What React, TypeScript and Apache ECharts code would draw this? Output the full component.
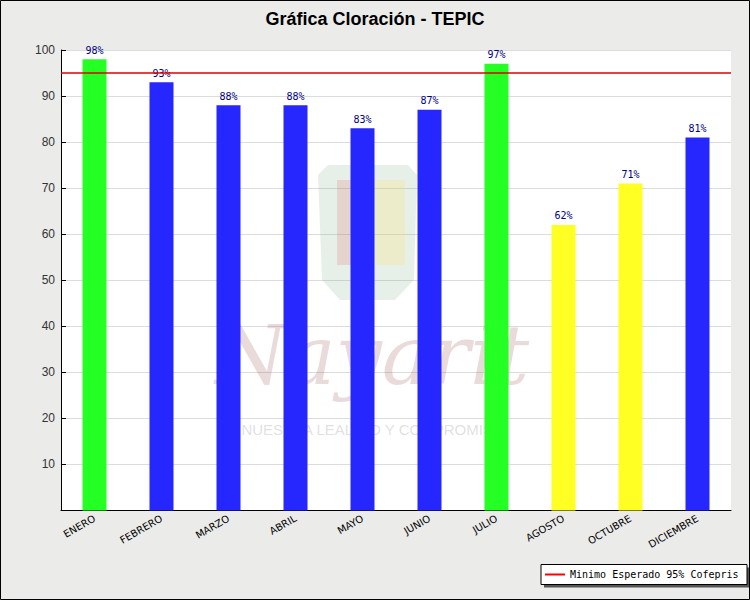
import React, { useEffect, useRef } from "react";
import * as echarts from "echarts";

const categories = ["ENERO", "FEBRERO", "MARZO", "ABRIL", "MAYO", "JUNIO", "JULIO", "AGOSTO", "OCTUBRE", "DICIEMBRE"];
const values = [98, 93, 88, 88, 83, 87, 97, 62, 71, 81];
const threshold = 95;
const yTicks = [0, 10, 20, 30, 40, 50, 60, 70, 80, 90, 100];
const titleText = "Gráfica Cloración - TEPIC";
const legendName = "Minimo Esperado 95% Cofepris";

const GREEN = "#24ff24";
const BLUE = "#2626ff";
const YELLOW = "#ffff24";

function barColor(v: number) {
  if (v >= threshold) return GREEN;
  if (v < 75) return YELLOW;
  return BLUE;
}

export default function App() {
  const ref = useRef<HTMLDivElement>(null);
  useEffect(() => {
    if (!ref.current) return;
    const chart = echarts.init(ref.current, null, { renderer: "svg" });
    chart.setOption({
      animation: false,
      backgroundColor: "#ebebea",
      title: {
        text: titleText,
        left: "center",
        top: 5,
        textStyle: { fontFamily: "Liberation Sans", fontSize: 18, fontWeight: "bold", color: "#000" },
      },
      grid: {
        left: 61,
        right: 19,
        top: 50,
        bottom: 89.5,
        show: true,
        backgroundColor: "#ffffff",
        borderWidth: 0,
        z: 0,
      },
      legend: {
        data: [{ name: legendName, icon: "rect" }],
        left: 545,
        top: 569.5,
        padding: 0,
        itemWidth: 20,
        itemHeight: 2,
        textStyle: { fontFamily: "DejaVu Sans Mono", fontSize: 10, color: "#000" },
        z: 50,
      },
      xAxis: {
        type: "category",
        data: categories,
        axisLine: { lineStyle: { color: "#000", width: 1 } },
        axisTick: { inside: true, length: 5, lineStyle: { color: "#000" } },
        axisLabel: {
          rotate: 30,
          margin: 7,
          fontFamily: "DejaVu Sans",
          fontSize: 10,
          color: "#000",
        },
        splitLine: { show: false },
      },
      yAxis: {
        type: "value",
        min: yTicks[0],
        max: yTicks[yTicks.length - 1],
        interval: 10,
        axisLine: { show: true, lineStyle: { color: "#000", width: 1 } },
        axisTick: { show: true, inside: true, length: 5, lineStyle: { color: "#000" } },
        axisLabel: {
          margin: 6,
          fontFamily: "Liberation Sans",
          fontSize: 12,
          color: "#333",
          formatter: (v: number) => (v === 0 ? "" : String(v)),
        },
        splitLine: { show: true, lineStyle: { color: "#dcdcdc", width: 1 } },
      },
      graphic: [
        {
          type: "text",
          z: 1,
          silent: true,
          style: {
            text: "Nayarit",
            x: 372,
            y: 355,
            align: "center",
            verticalAlign: "middle",
            font: "italic 82px 'DejaVu Serif'",
            fill: "rgba(160, 90, 90, 0.22)",
          },
        },
        {
          type: "text",
          z: 1,
          silent: true,
          style: {
            text: "NUESTRA LEALTAD Y COMPROMISO",
            x: 373,
            y: 429,
            align: "center",
            verticalAlign: "middle",
            font: "15px 'Liberation Sans'",
            fill: "rgba(150, 150, 150, 0.3)",
          },
        },
        {
          type: "polygon",
          z: 1,
          silent: true,
          shape: { points: [[328, 165], [408, 165], [417, 175], [414, 280], [395, 300], [340, 300], [322, 280], [318, 175]] },
          style: { fill: "rgba(120, 170, 130, 0.18)" },
        },
        {
          type: "rect",
          z: 1,
          silent: true,
          shape: { x: 337, y: 180, width: 30, height: 85 },
          style: { fill: "rgba(220, 100, 100, 0.2)" },
        },
        {
          type: "rect",
          z: 1,
          silent: true,
          shape: { x: 372, y: 180, width: 33, height: 85 },
          style: { fill: "rgba(250, 220, 110, 0.25)" },
        },
        {
          type: "rect",
          z: 20,
          silent: true,
          shape: { x: 544, y: 567.5, width: 206, height: 20 },
          style: { fill: "#555" },
        },
        {
          type: "rect",
          z: 21,
          silent: true,
          shape: { x: 541, y: 564.5, width: 206, height: 20 },
          style: { fill: "#fff", stroke: "#000", lineWidth: 1 },
        },
        {
          type: "rect",
          z: 30,
          silent: true,
          shape: { x: 0.5, y: 0.5, width: 749, height: 599 },
          style: { fill: "none", stroke: "#000", lineWidth: 1 },
        },
      ],
      series: [
        {
          type: "bar",
          data: values.map((v) => ({ value: v, itemStyle: { color: barColor(v) } })),
          barWidth: 24,
          z: 2,
          label: {
            show: true,
            position: "top",
            distance: 4,
            formatter: "{c}%",
            fontFamily: "DejaVu Sans Mono",
            fontSize: 10,
            color: "#000080",
          },
        },
        {
          type: "line",
          name: legendName,
          data: [],
          symbol: "none",
          lineStyle: { color: "#ff0000", width: 2 },
          itemStyle: { color: "#ff0000" },
          z: 3,
          markLine: {
            silent: true,
            symbol: "none",
            label: { show: false },
            lineStyle: { color: "#e00000", width: 1.5, type: "solid" },
            data: [{ yAxis: threshold }],
          },
        },
      ],
    });
    return () => chart.dispose();
  }, []);
  return (
    <div
      ref={ref}
      style={{ position: "absolute", left: 0, top: 0, width: 750, height: 600 }}
    />
  );
}
